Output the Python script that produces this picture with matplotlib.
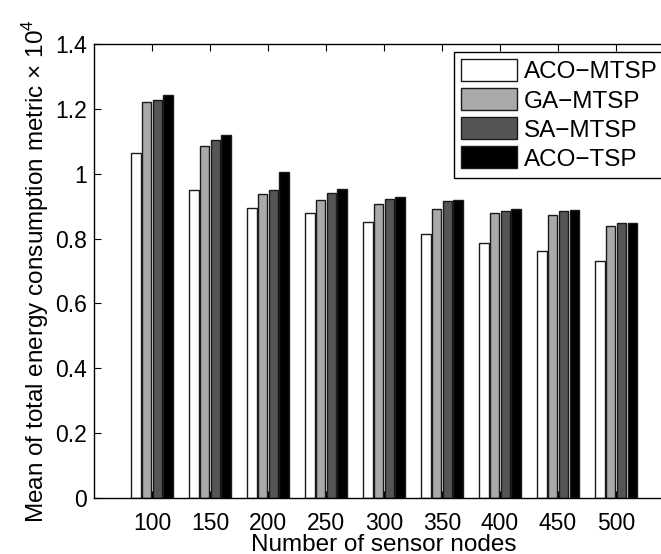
import numpy as np
import matplotlib
matplotlib.use('Agg')
import matplotlib.pyplot as plt

plt.rcParams['font.family'] = ['Liberation Sans', 'DejaVu Sans']
plt.rcParams['mathtext.fontset'] = 'custom'
plt.rcParams['mathtext.rm'] = 'Liberation Sans'

# Mean total energy consumption (x 10^4) for each network size
nodes = [100, 150, 200, 250, 300, 350, 400, 450, 500]
aco_mtsp = [1.065, 0.950, 0.895, 0.878, 0.852, 0.813, 0.787, 0.762, 0.731]
ga_mtsp = [1.221, 1.084, 0.937, 0.918, 0.907, 0.891, 0.879, 0.872, 0.838]
sa_mtsp = [1.226, 1.103, 0.950, 0.940, 0.922, 0.916, 0.886, 0.884, 0.847]
aco_tsp = [1.242, 1.119, 1.006, 0.953, 0.929, 0.919, 0.890, 0.887, 0.848]

series = [aco_mtsp, ga_mtsp, sa_mtsp, aco_tsp]
labels = ['ACO\u2212MTSP', 'GA\u2212MTSP', 'SA\u2212MTSP', 'ACO\u2212TSP']
colors = ['#ffffff', '#aaaaaa', '#555555', '#000000']

fig = plt.figure(figsize=(6.61, 5.54), dpi=100)
ax = fig.add_axes([0.1422, 0.1011, 0.8775, 0.8195])

step = 9.2
width = 7.8
x = np.array(nodes, dtype=float)
for i, (vals, lab, col) in enumerate(zip(series, labels, colors)):
    ax.bar(x + (i - 1.5) * step, vals, width=width, color=col,
           edgecolor='#1a1a1a', linewidth=1.0, label=lab)

ax.set_xlim(50, 550)
ax.set_ylim(0, 1.4)
ax.set_xticks(nodes)
ax.set_yticks(np.arange(0, 1.41, 0.2))
ax.set_yticklabels(['0', '0.2', '0.4', '0.6', '0.8', '1', '1.2', '1.4'])
ax.tick_params(direction='in', length=5, width=0.8, labelsize=16.5,
               top=True, right=True, pad=5)
ax.tick_params(axis='x', pad=10)
for s in ax.spines.values():
    s.set_linewidth(1.0)

ax.set_xlabel('Number of sensor nodes', fontsize=17.5, labelpad=-0.5)
ax.set_ylabel('Mean of total energy consumption metric \u00d7 10$^4$',
              fontsize=17.5, labelpad=3)

ax.legend(loc='upper right', bbox_to_anchor=(0.9845, 0.9824),
          borderaxespad=0, fontsize=17.5, fancybox=False,
          edgecolor='black', framealpha=1, handlelength=2.3,
          handleheight=1.0, labelspacing=0.2, handletextpad=0.3,
          borderpad=0.3)

fig.savefig('out.png', dpi=100)
